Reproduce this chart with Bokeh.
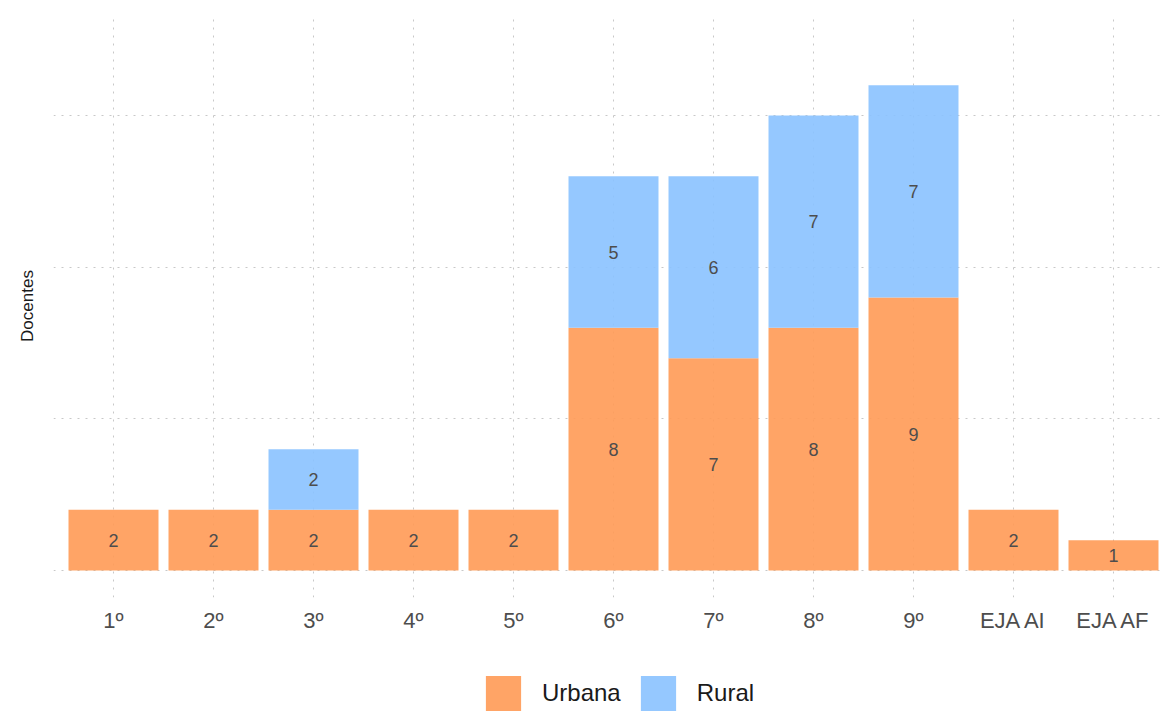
from bokeh.plotting import figure
from bokeh.models import ColumnDataSource, Range1d, FixedTicker, Legend, LegendItem
from bokeh.layouts import column
from bokeh.core.properties import value
from bokeh.embed import file_html
from bokeh.resources import INLINE

categories = ["1º", "2º", "3º", "4º", "5º", "6º", "7º", "8º", "9º", "EJA AI", "EJA AF"]
urbana = [2, 2, 2, 2, 2, 8, 7, 8, 9, 2, 1]
rural = [0, 0, 2, 0, 0, 5, 6, 7, 7, 0, 0]
series = ["Urbana", "Rural"]
colors = ["#FF9A55", "#8AC2FF"]

FONT = "Liberation Sans"

xpos = list(range(1, len(categories) + 1))
source = ColumnDataSource(dict(x=xpos, cat=categories, Urbana=urbana, Rural=rural))

p = figure(width=1161, height=650, output_backend="svg", toolbar_location=None,
           x_range=Range1d(0.4, 11.48), y_range=Range1d(-0.89, 18.33),
           min_border_left=53, min_border_right=0, min_border_top=14, min_border_bottom=53)
p.outline_line_color = None
p.background_fill_color = "white"
p.border_fill_color = "white"

renderers = p.vbar_stack(series, x="x", width=0.9, source=source, color=colors,
                         fill_alpha=0.9, line_color=None)

# segment labels
lab_x, lab_y, lab_t = [], [], []
for i, (u, r) in enumerate(zip(urbana, rural)):
    if u > 0:
        lab_x.append(xpos[i]); lab_y.append(u / 2); lab_t.append(str(u))
    if r > 0:
        lab_x.append(xpos[i]); lab_y.append(u + r / 2); lab_t.append(str(r))
p.text(x=lab_x, y=lab_y, text=lab_t, text_align="center", text_baseline="middle",
       text_font=value(FONT), text_font_size="18px", text_color="#4d4d4d")

# axes
p.xaxis.ticker = FixedTicker(ticks=xpos)
p.xaxis.major_label_overrides = {x: c for x, c in zip(xpos, categories)}
p.xaxis.major_label_text_font = FONT
p.xaxis.major_label_text_font_size = "22px"
p.xaxis.major_label_text_color = "#4d4d4d"
p.xaxis.major_label_standoff = 4
p.xaxis.axis_line_color = None
p.xaxis.major_tick_line_color = None
p.xaxis.minor_tick_line_color = None

p.yaxis.ticker = FixedTicker(ticks=[0, 5, 10, 15])
p.yaxis.major_label_overrides = {0: "", 5: "", 10: "", 15: ""}
p.yaxis.major_label_standoff = 0
p.yaxis.axis_line_color = None
p.yaxis.major_tick_line_color = None
p.yaxis.minor_tick_line_color = None
p.yaxis.axis_label = "Docentes"
p.yaxis.axis_label_text_font = FONT
p.yaxis.axis_label_text_font_size = "17px"
p.yaxis.axis_label_text_font_style = "normal"
p.yaxis.axis_label_text_color = "#1a1a1a"
p.yaxis.axis_label_standoff = 11

# grids
for g in (p.xgrid, p.ygrid):
    g.grid_line_color = "#c8c8c8"
    g.grid_line_dash = "2 6"
    g.grid_line_width = 1
p.ygrid.ticker = FixedTicker(ticks=[0, 5, 10, 15])

# legend strip below the chart (its bars lie outside its visible range; only the legend shows)
pl = figure(width=1161, height=63, output_backend="svg", toolbar_location=None,
            x_range=Range1d(0.4, 11.48), y_range=Range1d(100, 101),
            min_border_left=53, min_border_right=0, min_border_top=0, min_border_bottom=0)
pl.axis.visible = False
pl.grid.visible = False
pl.outline_line_color = None
pl.border_fill_color = "white"
leg_renderers = pl.vbar_stack(series, x="x", width=0.9, source=source, color=colors,
                              fill_alpha=0.9, line_color=None)
legend = Legend(items=[LegendItem(label=s, renderers=[r]) for s, r in zip(series, leg_renderers)],
                orientation="horizontal", location=(428, -2),
                glyph_width=44, glyph_height=44, label_standoff=17, spacing=15,
                padding=0, margin=0, border_line_color=None, background_fill_alpha=0,
                label_text_font=FONT, label_text_font_size="24px", label_text_color="#1a1a1a")
pl.add_layout(legend, "center")

layout = column(p, pl, spacing=0)
open("out.html", "w").write(file_html(layout, INLINE))
